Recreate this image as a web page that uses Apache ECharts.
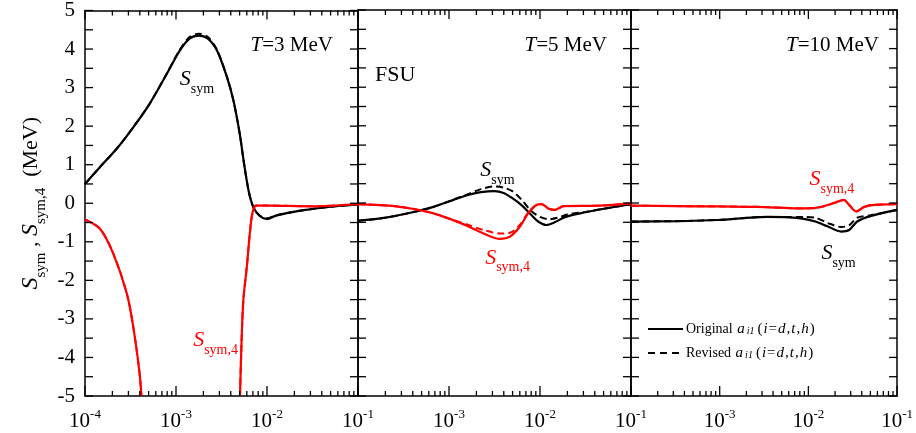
<!DOCTYPE html>
<html>
<head>
<meta charset="utf-8">
<script src="https://cdn.jsdelivr.net/npm/echarts@6/dist/echarts.min.js"></script>
<style>
  html, body { margin: 0; padding: 0; background: #fff; }
  #chart { width: 916px; height: 433px; }
</style>
</head>
<body>
<div id="chart"></div>
<script>
// Symmetry energy S_sym and fourth-order term S_sym,4 (MeV) versus density (fm^-3), FSU model.
// Each curve: [density, value]. "Orig" = original a_i1, "Rev" = revised a_i1.

// ---- T = 3 MeV ----
const t3SymOrig = [
  [1.00e-4, 0.50], [1.45e-4, 0.93], [2.24e-4, 1.42], [3.39e-4, 1.97], [5.13e-4, 2.58],
  [7.94e-4, 3.36], [1.10e-3, 3.96], [1.41e-3, 4.27], [1.78e-3, 4.35], [2.24e-3, 4.27],
  [2.82e-3, 3.96], [3.63e-3, 3.27], [4.27e-3, 2.67], [5.01e-3, 1.81], [5.62e-3, 1.00],
  [6.31e-3, 0.30], [7.08e-3, -0.10], [8.32e-3, -0.33], [1.00e-2, -0.41], [1.26e-2, -0.32],
  [2.51e-2, -0.18], [5.01e-2, -0.09], [1.00e-1, -0.03]
];
const t3SymRev = [
  [1.00e-4, 0.50], [1.45e-4, 0.93], [2.24e-4, 1.42], [3.39e-4, 1.97], [5.13e-4, 2.58],
  [7.94e-4, 3.37], [1.10e-3, 3.98], [1.41e-3, 4.31], [1.78e-3, 4.40], [2.24e-3, 4.31],
  [2.82e-3, 3.98], [3.63e-3, 3.28], [4.27e-3, 2.67], [5.01e-3, 1.81], [5.62e-3, 1.00],
  [6.31e-3, 0.30], [7.08e-3, -0.10], [8.32e-3, -0.32], [1.00e-2, -0.39], [1.26e-2, -0.31],
  [2.51e-2, -0.18], [5.01e-2, -0.09], [1.00e-1, -0.03]
];
const t3Sym4OrigLow = [
  [1.00e-4, -0.42], [1.46e-4, -0.66], [2.04e-4, -1.30], [2.88e-4, -2.34],
  [3.39e-4, -3.20], [3.98e-4, -4.41], [4.17e-4, -5.00]
];
const t3Sym4OrigHigh = [
  [5.05e-3, -5.00], [5.25e-3, -3.60], [5.50e-3, -2.50], [6.03e-3, -1.60], [6.46e-3, -0.80],
  [6.92e-3, -0.25], [7.59e-3, -0.06], [1.00e-2, -0.06], [3.16e-2, -0.08], [1.00e-1, -0.02]
];
const t3Sym4RevLow = t3Sym4OrigLow;
const t3Sym4RevHigh = t3Sym4OrigHigh;

// ---- T = 5 MeV ----
const t5SymOrig = [
  [1.00e-4, -0.46], [2.00e-4, -0.38], [3.98e-4, -0.24], [6.76e-4, -0.10], [1.12e-3, 0.08],
  [1.58e-3, 0.20], [2.24e-3, 0.28], [3.16e-3, 0.31], [3.98e-3, 0.26], [5.01e-3, 0.12],
  [6.31e-3, -0.06], [7.94e-3, -0.30], [9.55e-3, -0.48], [1.17e-2, -0.57], [1.45e-2, -0.50],
  [1.91e-2, -0.36], [3.16e-2, -0.24], [5.01e-2, -0.15], [1.00e-1, -0.03]
];
const t5SymRev = [
  [1.00e-4, -0.46], [2.00e-4, -0.38], [3.98e-4, -0.24], [6.76e-4, -0.10], [1.12e-3, 0.09],
  [1.58e-3, 0.22], [2.24e-3, 0.36], [3.16e-3, 0.43], [3.98e-3, 0.40], [5.01e-3, 0.30],
  [6.31e-3, 0.08], [7.94e-3, -0.20], [1.00e-2, -0.36], [1.26e-2, -0.42], [1.58e-2, -0.38],
  [2.00e-2, -0.30], [3.16e-2, -0.23], [5.01e-2, -0.15], [1.00e-1, -0.03]
];
const t5Sym4Orig = [
  [1.00e-4, -0.03], [1.58e-4, -0.05], [2.51e-4, -0.08], [3.98e-4, -0.15], [6.76e-4, -0.27],
  [1.12e-3, -0.45], [1.55e-3, -0.58], [2.40e-3, -0.79], [3.63e-3, -0.93], [4.68e-3, -0.87],
  [6.03e-3, -0.61], [7.41e-3, -0.27], [9.12e-3, -0.05], [1.05e-2, -0.03], [1.23e-2, -0.14],
  [1.45e-2, -0.18], [1.82e-2, -0.08], [4.57e-2, -0.07], [1.00e-1, -0.01]
];
const t5Sym4Rev = [
  [1.00e-4, -0.03], [1.58e-4, -0.05], [2.51e-4, -0.08], [3.98e-4, -0.15], [6.76e-4, -0.27],
  [1.12e-3, -0.44], [1.55e-3, -0.55], [2.40e-3, -0.70], [3.63e-3, -0.79], [4.68e-3, -0.77],
  [6.03e-3, -0.56], [7.41e-3, -0.25], [9.12e-3, -0.05], [1.05e-2, -0.03], [1.23e-2, -0.14],
  [1.45e-2, -0.18], [1.82e-2, -0.08], [4.57e-2, -0.07], [1.00e-1, -0.01]
];

// ---- T = 10 MeV ----
const t10SymOrig = [
  [1.00e-4, -0.48], [3.16e-4, -0.47], [9.55e-4, -0.44], [3.39e-3, -0.36], [6.03e-3, -0.37],
  [8.91e-3, -0.41], [1.20e-2, -0.48], [1.66e-2, -0.61], [2.34e-2, -0.74], [2.88e-2, -0.70],
  [3.55e-2, -0.48], [5.01e-2, -0.34], [1.00e-1, -0.18]
];
const t10SymRev = [
  [1.00e-4, -0.48], [3.16e-4, -0.47], [9.55e-4, -0.44], [3.39e-3, -0.36], [6.03e-3, -0.36],
  [8.91e-3, -0.36], [1.20e-2, -0.38], [1.66e-2, -0.52], [2.34e-2, -0.62], [2.88e-2, -0.58],
  [3.55e-2, -0.38], [5.01e-2, -0.32], [1.00e-1, -0.18]
];
const t10Sym4Orig = [
  [1.00e-4, -0.07], [3.16e-4, -0.08], [1.00e-3, -0.09], [2.63e-3, -0.10], [9.33e-3, -0.14],
  [1.41e-2, -0.10], [2.00e-2, 0.01], [2.51e-2, 0.08], [2.88e-2, -0.05], [3.47e-2, -0.22],
  [4.27e-2, -0.10], [5.50e-2, -0.05], [1.00e-1, -0.03]
];
const t10Sym4Rev = t10Sym4Orig;

// Axis layout values
const densityMin = 1e-4, densityMax = 1e-1;
const valueMin = -5, valueMax = 5, valueStep = 0.5;
const majorTicks = [1e-4, 1e-3, 1e-2, 1e-1];
const minorTicks = [];
[1e-4, 1e-3, 1e-2].forEach(function (d) {
  for (let k = 2; k <= 9; k++) minorTicks.push(+(k * d).toPrecision(3));
});
const valueTicks = [];
for (let v = valueMin; v <= valueMax + 1e-9; v += valueStep) valueTicks.push(+v.toFixed(2));
const panelTitles = ['3', '5', '10'];
const legendNames = ['Original', 'Revised'];

const FONT = '"Liberation Serif", "Times New Roman", serif';
const BLACK = '#000000';
const RED = '#ff0000';

const chart = echarts.init(document.getElementById('chart'), null, { renderer: 'canvas' });

const gridLefts = [85, 358, 631];
const grids = gridLefts.map(function (l) {
  return { left: l, top: 10, width: 273, height: 386, show: false };
});

const xAxes = [];
const yAxes = [];
for (let g = 0; g < 3; g++) {
  const base = {
    gridIndex: g, type: 'log', logBase: 10, min: densityMin, max: densityMax,
    splitLine: { show: false }, axisTick: { show: false }
  };
  xAxes.push(Object.assign({}, base, {
    position: 'bottom',
    axisLine: { show: true, onZero: false, lineStyle: { color: BLACK, width: 1.5 } },
    axisLabel: {
      show: true, customValues: majorTicks, margin: 12, color: BLACK,
      formatter: function (v) {
        const e = Math.round(Math.log10(v));
        if (g > 0 && e === -4) return '';
        return '{b|10}{s|' + e + '}';
      },
      rich: {
        b: { fontFamily: FONT, fontSize: 21, lineHeight: 26, color: BLACK },
        s: { fontFamily: FONT, fontSize: 13, lineHeight: 13, verticalAlign: 'top', color: BLACK }
      }
    }
  }));
  xAxes.push(Object.assign({}, base, {
    position: 'top',
    axisLine: { show: true, onZero: false, lineStyle: { color: BLACK, width: 1.5 } },
    axisLabel: { show: false }
  }));

  const ybase = {
    gridIndex: g, type: 'value', min: valueMin, max: valueMax, interval: valueStep,
    splitLine: { show: false }, axisTick: { show: false },
    axisLine: { show: true, lineStyle: { color: BLACK, width: 1.5 } }
  };
  const leftY = Object.assign({}, ybase, {
    position: 'left',
    axisLabel: {
      show: g === 0, margin: 10, color: BLACK, fontFamily: FONT, fontSize: 21,
      formatter: function (v) { return Number.isInteger(v) ? String(v) : ''; }
    }
  });
  if (g === 0) {
    Object.assign(leftY, {
      name: '{s|S}{sub|sym}{n| , }{s|S}{sub|sym,4}{n|  (MeV)}',
      nameLocation: 'middle', nameRotate: 90, nameGap: 36,
      nameTextStyle: {
        color: BLACK,
        rich: {
          s: { fontFamily: FONT, fontSize: 24, fontStyle: 'italic', lineHeight: 36, color: BLACK },
          n: { fontFamily: FONT, fontSize: 22, lineHeight: 36, color: BLACK },
          sub: { fontFamily: FONT, fontSize: 15, lineHeight: 12, verticalAlign: 'bottom', color: BLACK }
        }
      }
    });
  }
  yAxes.push(leftY);
  yAxes.push(Object.assign({}, ybase, { position: 'right', axisLabel: { show: false } }));
}

// Inward ticks on all four sides of a panel, placed through the panel's own axes
function renderFrameTicks(params, api) {
  const children = [];
  function seg(a, dx, dy) {
    children.push({
      type: 'line',
      shape: { x1: a[0], y1: a[1], x2: a[0] + dx, y2: a[1] + dy },
      style: { stroke: BLACK, lineWidth: 1.3 }
    });
  }
  valueTicks.forEach(function (v) {
    seg(api.coord([densityMin, v]), 8, 0);
    seg(api.coord([densityMax, v]), -8, 0);
  });
  majorTicks.forEach(function (v) {
    seg(api.coord([v, valueMin]), 0, -10);
    seg(api.coord([v, valueMax]), 0, 9);
  });
  minorTicks.forEach(function (v) {
    seg(api.coord([v, valueMin]), 0, -5);
    seg(api.coord([v, valueMax]), 0, 5);
  });
  return { type: 'group', children: children };
}

function labelRich(color) {
  return {
    s: { fontFamily: FONT, fontSize: 22, fontStyle: 'italic', lineHeight: 34, color: color },
    sub: { fontFamily: FONT, fontSize: 14, lineHeight: 12, verticalAlign: 'bottom', color: color }
  };
}

function curve(name, data, color, dashed, g, mark) {
  const s = {
    type: 'line', name: name, data: data,
    xAxisIndex: g * 2, yAxisIndex: g * 2,
    symbol: 'none', showSymbol: false, smooth: 0.3, clip: true,
    lineStyle: { color: color, width: dashed ? 2 : 2.2, type: dashed ? [7, 4] : 'solid' },
    itemStyle: { color: color },
    silent: true, animation: false
  };
  if (mark) {
    s.markPoint = {
      symbol: 'circle', symbolSize: 0, silent: true, animation: false,
      label: {
        show: true, position: 'inside',
        formatter: mark.text,
        rich: labelRich(color)
      },
      data: [{ coord: mark.at }]
    };
  }
  return s;
}

const SYM = '{s|S}{sub|sym}';
const SYM4 = '{s|S}{sub|sym,4}';

const series = [
  // T = 3 MeV
  curve('Revised', t3SymRev, BLACK, true, 0),
  curve('Original', t3SymOrig, BLACK, false, 0, { text: SYM, at: [1.70e-3, 3.21] }),
  curve('Revised', t3Sym4RevLow, RED, true, 0),
  curve('Revised', t3Sym4RevHigh, RED, true, 0),
  curve('Original', t3Sym4OrigLow, RED, false, 0, { text: SYM4, at: [2.72e-3, -3.55] }),
  curve('Original', t3Sym4OrigHigh, RED, false, 0),
  // T = 5 MeV
  curve('Revised', t5SymRev, BLACK, true, 1),
  curve('Original', t5SymOrig, BLACK, false, 1, { text: SYM, at: [3.40e-3, 0.85] }),
  curve('Revised', t5Sym4Rev, RED, true, 1),
  curve('Original', t5Sym4Orig, RED, false, 1, { text: SYM4, at: [4.40e-3, -1.42] }),
  // T = 10 MeV
  curve('Revised', t10SymRev, BLACK, true, 2),
  curve('Original', t10SymOrig, BLACK, false, 2, { text: SYM, at: [2.19e-2, -1.30] }),
  curve('Revised', t10Sym4Rev, RED, true, 2),
  curve('Original', t10Sym4Orig, RED, false, 2, { text: SYM4, at: [1.84e-2, 0.62] })
];
for (let g = 0; g < 3; g++) {
  series.push({
    type: 'custom', name: 'frame ticks ' + g,
    xAxisIndex: g * 2, yAxisIndex: g * 2,
    data: [[1e-3, 0]], renderItem: renderFrameTicks,
    silent: true, animation: false, z: 5
  });
}

const titleRich = {
  t: { fontFamily: FONT, fontSize: 21, fontStyle: 'italic', color: BLACK },
  r: { fontFamily: FONT, fontSize: 21, color: BLACK }
};
const titleRight = [333, 607, 879];
const graphics = panelTitles.map(function (t, i) {
  return {
    type: 'text', x: titleRight[i], y: 45, silent: true,
    style: {
      text: '{t|T}{r|=' + t + ' MeV}', rich: titleRich,
      align: 'right', verticalAlign: 'middle'
    }
  };
});
graphics.push({
  type: 'text', x: 375, y: 75, silent: true,
  style: { text: 'FSU', fontFamily: FONT, fontSize: 22, fill: BLACK, align: 'left', verticalAlign: 'middle' }
});

// Key for the two line styles, in the lower part of the T = 10 MeV panel
const keyRich = {
  n: { fontFamily: FONT, fontSize: 14, color: BLACK },
  p: { fontFamily: FONT, fontSize: 15, color: BLACK },
  it: { fontFamily: FONT, fontSize: 15, fontStyle: 'italic', color: BLACK, padding: [0, 1, 0, 1] },
  sub: { fontFamily: FONT, fontSize: 10, fontStyle: 'italic', lineHeight: 8, verticalAlign: 'bottom', color: BLACK, padding: [0, 3, 0, 1] }
};
legendNames.forEach(function (name, i) {
  const y = 329 + i * 24;
  graphics.push({
    type: 'line', silent: true,
    shape: { x1: 648, y1: y, x2: 683, y2: y },
    style: { stroke: BLACK, lineWidth: 2, lineDash: i === 0 ? null : [7, 5] }
  });
  graphics.push({
    type: 'text', x: 686, y: y, silent: true,
    style: {
      text: '{n|' + name + ' }{it|a}{sub|i1}{p|(}{it|i}{p|=}{it|d}{p|,}{it|t}{p|,}{it|h}{p|)}',
      rich: keyRich, align: 'left', verticalAlign: 'middle'
    }
  });
});

chart.setOption({
  animation: false,
  backgroundColor: '#ffffff',
  grid: grids,
  xAxis: xAxes,
  yAxis: yAxes,
  graphic: graphics,
  series: series
});
</script>
</body>
</html>
